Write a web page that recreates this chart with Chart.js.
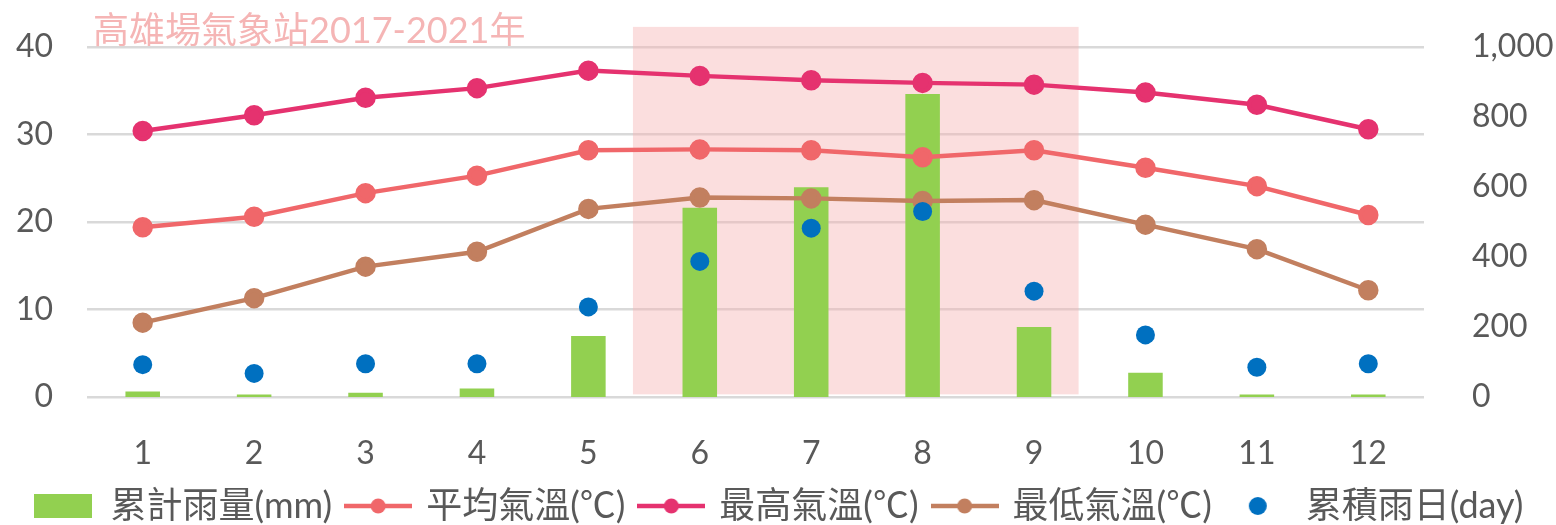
<!DOCTYPE html>
<html>
<head>
<meta charset="utf-8">
<script src="https://cdn.jsdelivr.net/npm/chart.js@4.4.1/dist/chart.umd.min.js"></script>
<style>
    html, body { margin: 0; padding: 0; background: #ffffff; }
    #wrap { width: 1556px; height: 525px; }
</style>
</head>
<body>
<div id="wrap"><canvas id="climateChart" width="1556" height="525"></canvas></div>
<script>
// DATA
const months = ["1", "2", "3", "4", "5", "6", "7", "8", "9", "10", "11", "12"];
const rainMm = [16, 7, 12, 24, 174, 541, 599, 866, 200, 69, 7, 7];
const avgTemp = [19.4, 20.6, 23.3, 25.3, 28.2, 28.3, 28.2, 27.4, 28.2, 26.2, 24.1, 20.8];
const maxTemp = [30.4, 32.2, 34.2, 35.3, 37.3, 36.7, 36.2, 35.9, 35.7, 34.8, 33.4, 30.6];
const minTemp = [8.5, 11.3, 14.9, 16.6, 21.5, 22.8, 22.7, 22.4, 22.5, 19.7, 16.9, 12.2];
const rainDays = [3.7, 2.7, 3.8, 3.8, 10.3, 15.5, 19.3, 21.2, 12.1, 7.1, 3.4, 3.8];
const tempTicks = [0, 10, 20, 30, 40];
const rainTicks = [0, 200, 400, 600, 800, 1000];

const titleText = "高雄場氣象站2017-2021年";

// shaded rainy season box (category index / left axis units)
const season = { from: 4.4, to: 8.4, top: 42.3, bottom: 0.3 };

const GREEN = "#92d050";
const AVG = "#f0676a";
const MAX = "#e5326f";
const MIN = "#c27f5f";
const BLUE = "#0070c0";
const FONT = 'Lato, "Noto Sans CJK TC", sans-serif';

// legend icons
function lineIcon(color) {
    const c = document.createElement("canvas");
    c.width = 68; c.height = 20;
    const g = c.getContext("2d");
    g.strokeStyle = color; g.lineWidth = 4.5;
    g.beginPath(); g.moveTo(0, 10); g.lineTo(68, 10); g.stroke();
    g.fillStyle = color;
    g.beginPath(); g.arc(34, 10, 7.5, 0, Math.PI * 2); g.fill();
    return c;
}
function boxIcon(color) {
    const c = document.createElement("canvas");
    c.width = 58; c.height = 24;
    const g = c.getContext("2d");
    g.fillStyle = color; g.fillRect(0, 0, 58, 24);
    return c;
}
function dotIcon(color) {
    const c = document.createElement("canvas");
    c.width = 20; c.height = 20;
    const g = c.getContext("2d");
    g.fillStyle = color;
    g.beginPath(); g.arc(10, 10, 9, 0, Math.PI * 2); g.fill();
    return c;
}
const icons = [boxIcon(GREEN), lineIcon(AVG), lineIcon(MAX), lineIcon(MIN), dotIcon(BLUE)];

const seasonPlugin = {
    id: "season",
    beforeDatasetsDraw(chart) {
        const x = chart.scales.x, y = chart.scales.y;
        const ctx = chart.ctx;
        const left = x.getPixelForValue(season.from);
        const right = x.getPixelForValue(season.to);
        const top = y.getPixelForValue(season.top);
        const bottom = y.getPixelForValue(season.bottom);
        ctx.save();
        ctx.fillStyle = "rgba(246, 176, 176, 0.42)";
        ctx.fillRect(left, top, right - left, bottom - top);
        ctx.restore();
    },
    afterDraw(chart) {
        const ctx = chart.ctx;
        ctx.save();
        ctx.font = "36px " + FONT;
        ctx.fillStyle = "#f5b5b5";
        ctx.textBaseline = "middle";
        ctx.fillText(titleText, chart.chartArea.left + 6, 31);
        ctx.restore();
    }
};

// let the layout padding alone decide where the plot starts and ends
function noLabelPadding(s) {
    s.paddingTop = 0;
    s.paddingBottom = 0;
}

Chart.defaults.font.family = FONT;
Chart.defaults.color = "#595959";

const ctx = document.getElementById("climateChart").getContext("2d");

new Chart(ctx, {
    type: "bar",
    data: {
        labels: months,
        datasets: [
            {
                type: "bar",
                label: "累計雨量(mm)",
                data: rainMm,
                backgroundColor: GREEN,
                yAxisID: "y2",
                barPercentage: 0.31,
                categoryPercentage: 1,
                order: 5
            },
            {
                type: "line",
                label: "平均氣溫(℃)",
                data: avgTemp,
                borderColor: AVG,
                backgroundColor: AVG,
                borderWidth: 4.5,
                pointRadius: 8,
                pointHoverRadius: 8,
                yAxisID: "y",
                order: 3
            },
            {
                type: "line",
                label: "最高氣溫(℃)",
                data: maxTemp,
                borderColor: MAX,
                backgroundColor: MAX,
                borderWidth: 4.5,
                pointRadius: 8,
                pointHoverRadius: 8,
                yAxisID: "y",
                order: 2
            },
            {
                type: "line",
                label: "最低氣溫(℃)",
                data: minTemp,
                borderColor: MIN,
                backgroundColor: MIN,
                borderWidth: 4.5,
                pointRadius: 8,
                pointHoverRadius: 8,
                yAxisID: "y",
                order: 4
            },
            {
                type: "line",
                label: "累積雨日(day)",
                data: rainDays,
                showLine: false,
                borderColor: BLUE,
                backgroundColor: BLUE,
                pointRadius: 9.5,
                pointHoverRadius: 9.5,
                pointBorderWidth: 0,
                yAxisID: "y",
                order: 1
            }
        ]
    },
    options: {
        responsive: false,
        animation: false,
        layout: { padding: { top: 47, left: 0, right: 0, bottom: -9 } },
        plugins: {
            tooltip: { enabled: false },
            legend: {
                position: "bottom",
                labels: {
                    font: { size: 36 },
                    color: "#595959",
                    padding: 16,
                    usePointStyle: true,
                    pointStyleWidth: 60,
                    sort: function (a, b) { return a.datasetIndex - b.datasetIndex; },
                    generateLabels: function (chart) {
                        const items = Chart.defaults.plugins.legend.labels.generateLabels(chart);
                        items.forEach(function (it) { it.pointStyle = icons[it.datasetIndex]; });
                        return items;
                    }
                }
            }
        },
        scales: {
            x: {
                grid: { display: false },
                border: { display: false },
                ticks: { font: { size: 32 }, padding: 29 },
                afterFit: function (s) { s.height = 75; }
            },
            y: {
                position: "left",
                min: 0,
                max: 40,
                border: { display: false },
                grid: { color: "#d9d9d9", lineWidth: 2.5, drawTicks: false },
                afterBuildTicks: function (s) { s.ticks = tempTicks.map(v => ({ value: v })); },
                ticks: { font: { size: 32 }, padding: 34 },
                afterFit: function (s) { s.width = 87; noLabelPadding(s); }
            },
            y2: {
                position: "right",
                min: 0,
                max: 1000,
                border: { display: false },
                grid: { display: false },
                afterBuildTicks: function (s) { s.ticks = rainTicks.map(v => ({ value: v })); },
                ticks: { font: { size: 32 }, padding: 40 },
                afterFit: function (s) { s.width = 132; noLabelPadding(s); }
            }
        }
    },
    plugins: [seasonPlugin]
});
</script>
</body>
</html>
